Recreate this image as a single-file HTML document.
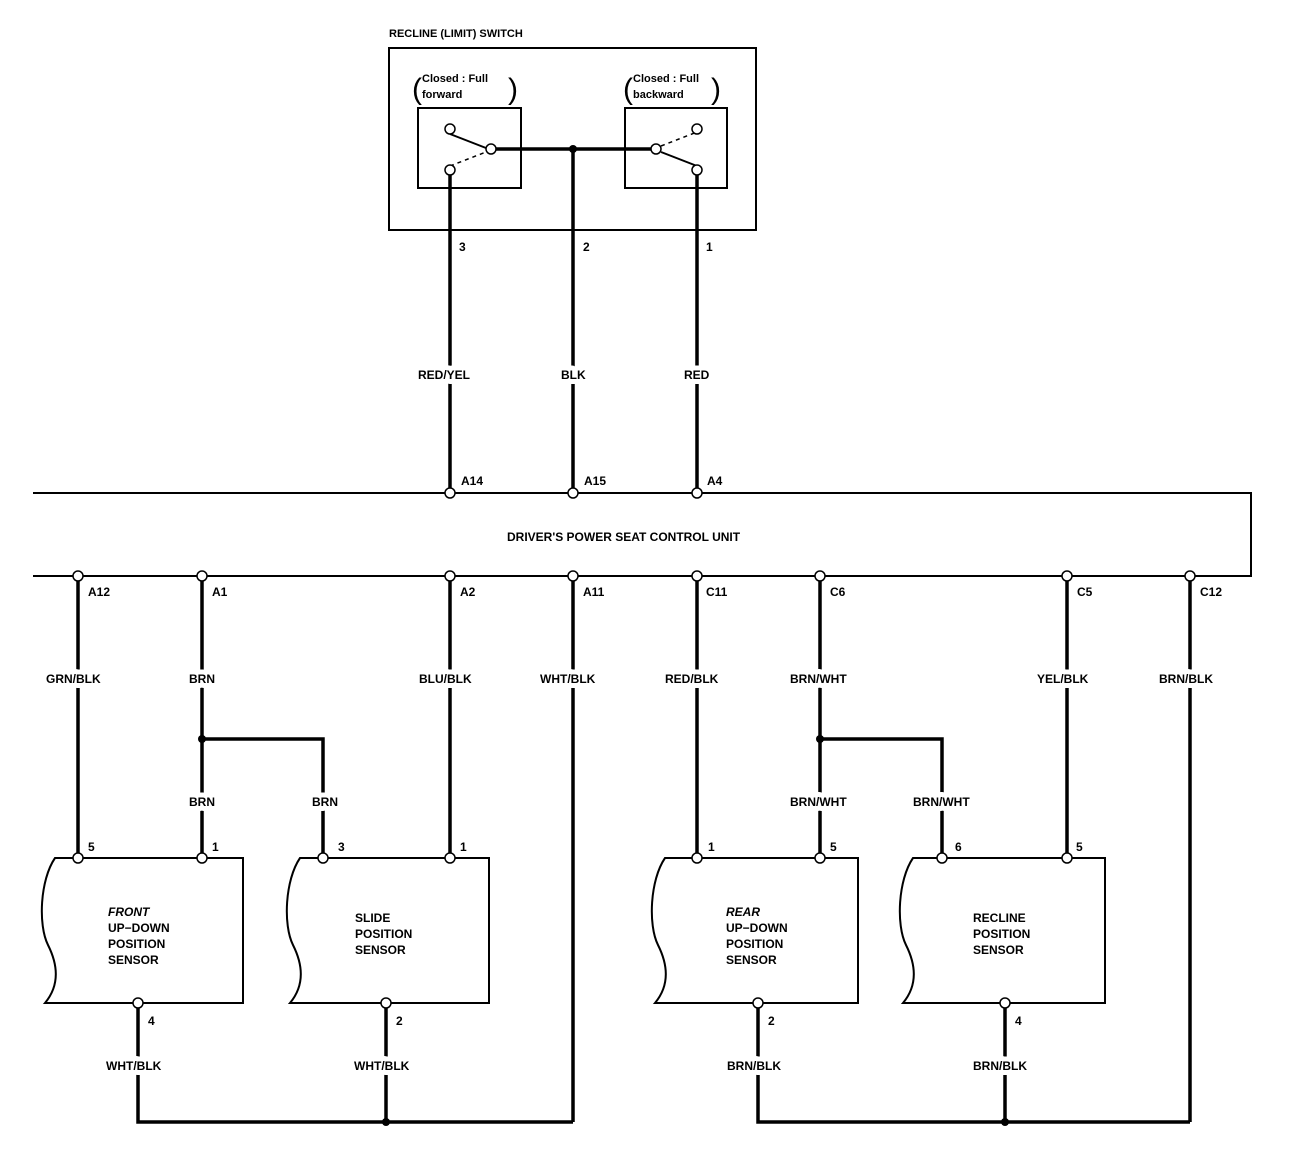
<!DOCTYPE html>
<html><head><style>
html,body{margin:0;padding:0;background:#fff;}
svg text{font-family:"Liberation Sans",sans-serif;font-weight:bold;font-size:12px;fill:#000;}
.w{stroke:#fff;stroke-width:10px;paint-order:stroke;stroke-linejoin:round;}
svg text.s{font-size:11px;}
svg text.p{font-size:30px;font-weight:normal;}
</style></head><body>
<svg width="1312" height="1168" viewBox="0 0 1312 1168" xmlns="http://www.w3.org/2000/svg">
<g fill="none" stroke="#000" stroke-width="2">
<rect x="389" y="48" width="367" height="182"/>
<rect x="418" y="108" width="103" height="80"/>
<rect x="625" y="108" width="102" height="80"/>
<line x1="450" y1="134" x2="486" y2="148"/>
<line x1="450" y1="166" x2="486" y2="152" stroke-dasharray="4,4" stroke-width="1.5"/>
<line x1="661" y1="152" x2="697" y2="166"/>
<line x1="661" y1="146" x2="697" y2="132" stroke-dasharray="4,4" stroke-width="1.5"/>
<polyline points="33,493 1251,493 1251,576 33,576"/>
<path d="M55,858 L243,858 L243,1003 L45,1003 C60,985 58,965 48,945 C38,925 40,880 55,858 Z"/>
<path d="M300,858 L489,858 L489,1003 L290,1003 C305,985 303,965 293,945 C283,925 285,880 300,858 Z"/>
<path d="M665,858 L858,858 L858,1003 L655,1003 C670,985 668,965 658,945 C648,925 650,880 665,858 Z"/>
<path d="M913,858 L1105,858 L1105,1003 L903,1003 C918,985 916,965 906,945 C896,925 898,880 913,858 Z"/>
</g>
<g fill="none" stroke="#000" stroke-width="3.5">
<line x1="491" y1="149" x2="656" y2="149"/>
<line x1="450" y1="170" x2="450" y2="493"/>
<line x1="573" y1="149" x2="573" y2="493"/>
<line x1="697" y1="170" x2="697" y2="493"/>
<line x1="78" y1="576" x2="78" y2="858"/>
<polyline points="202,576 202,858"/>
<polyline points="202,739 323,739 323,858"/>
<line x1="450" y1="576" x2="450" y2="858"/>
<line x1="573" y1="576" x2="573" y2="1122"/>
<line x1="697" y1="576" x2="697" y2="858"/>
<polyline points="820,576 820,858"/>
<polyline points="820,739 942,739 942,858"/>
<line x1="1067" y1="576" x2="1067" y2="858"/>
<line x1="1190" y1="576" x2="1190" y2="1122"/>
<polyline points="138,1003 138,1122 573,1122"/>
<line x1="386" y1="1003" x2="386" y2="1122"/>
<polyline points="758,1003 758,1122 1190,1122"/>
<line x1="1005" y1="1003" x2="1005" y2="1122"/>
</g>
<g fill="#000">
<circle cx="573" cy="149" r="4"/><circle cx="202" cy="739" r="4"/><circle cx="820" cy="739" r="4"/>
<circle cx="386" cy="1122" r="4"/><circle cx="1005" cy="1122" r="4"/>
</g>
<g fill="#fff" stroke="#000" stroke-width="1.5">
<circle cx="450" cy="129" r="5"/><circle cx="450" cy="170" r="5"/><circle cx="491" cy="149" r="5"/>
<circle cx="656" cy="149" r="5"/><circle cx="697" cy="129" r="5"/><circle cx="697" cy="170" r="5"/>
<circle cx="450" cy="493" r="5"/><circle cx="573" cy="493" r="5"/><circle cx="697" cy="493" r="5"/>
<circle cx="78" cy="576" r="5"/><circle cx="202" cy="576" r="5"/><circle cx="450" cy="576" r="5"/><circle cx="573" cy="576" r="5"/>
<circle cx="697" cy="576" r="5"/><circle cx="820" cy="576" r="5"/><circle cx="1067" cy="576" r="5"/><circle cx="1190" cy="576" r="5"/>
<circle cx="78" cy="858" r="5"/><circle cx="202" cy="858" r="5"/><circle cx="323" cy="858" r="5"/><circle cx="450" cy="858" r="5"/>
<circle cx="697" cy="858" r="5"/><circle cx="820" cy="858" r="5"/><circle cx="942" cy="858" r="5"/><circle cx="1067" cy="858" r="5"/>
<circle cx="138" cy="1003" r="5"/><circle cx="386" cy="1003" r="5"/><circle cx="758" cy="1003" r="5"/><circle cx="1005" cy="1003" r="5"/>
</g>
<g>
<text class="s" x="389" y="37">RECLINE (LIMIT) SWITCH</text>
<text class="s" x="422" y="82">Closed : Full</text><text class="s" x="422" y="98">forward</text>
<text class="p" x="412" y="99">(</text><text class="p" x="508" y="99">)</text>
<text class="s" x="633" y="82">Closed : Full</text><text class="s" x="633" y="98">backward</text>
<text class="p" x="623" y="99">(</text><text class="p" x="711" y="99">)</text>
<text x="459" y="251">3</text><text x="583" y="251">2</text><text x="706" y="251">1</text>
<text class="w" x="418" y="379">RED/YEL</text><text class="w" x="561" y="379">BLK</text><text class="w" x="684" y="379">RED</text>
<text x="461" y="485">A14</text><text x="584" y="485">A15</text><text x="707" y="485">A4</text>
<text x="507" y="541">DRIVER'S POWER SEAT CONTROL UNIT</text>
<text x="88" y="596">A12</text><text x="212" y="596">A1</text><text x="460" y="596">A2</text><text x="583" y="596">A11</text>
<text x="706" y="596">C11</text><text x="830" y="596">C6</text><text x="1077" y="596">C5</text><text x="1200" y="596">C12</text>
<g class="w">
<text x="46" y="683">GRN/BLK</text><text x="189" y="683">BRN</text><text x="419" y="683">BLU/BLK</text><text x="540" y="683">WHT/BLK</text>
<text x="665" y="683">RED/BLK</text><text x="790" y="683">BRN/WHT</text><text x="1037" y="683">YEL/BLK</text><text x="1159" y="683">BRN/BLK</text>
<text x="189" y="806">BRN</text><text x="312" y="806">BRN</text><text x="790" y="806">BRN/WHT</text><text x="913" y="806">BRN/WHT</text>
<text x="106" y="1070">WHT/BLK</text><text x="354" y="1070">WHT/BLK</text><text x="727" y="1070">BRN/BLK</text><text x="973" y="1070">BRN/BLK</text>
</g>
<text x="88" y="851">5</text><text x="212" y="851">1</text><text x="338" y="851">3</text><text x="460" y="851">1</text>
<text x="708" y="851">1</text><text x="830" y="851">5</text><text x="955" y="851">6</text><text x="1076" y="851">5</text>
<text x="108" y="916" font-style="italic">FRONT</text><text x="108" y="932">UP−DOWN</text><text x="108" y="948">POSITION</text><text x="108" y="964">SENSOR</text>
<text x="355" y="922">SLIDE</text><text x="355" y="938">POSITION</text><text x="355" y="954">SENSOR</text>
<text x="726" y="916" font-style="italic">REAR</text><text x="726" y="932">UP−DOWN</text><text x="726" y="948">POSITION</text><text x="726" y="964">SENSOR</text>
<text x="973" y="922">RECLINE</text><text x="973" y="938">POSITION</text><text x="973" y="954">SENSOR</text>
<text x="148" y="1025">4</text><text x="396" y="1025">2</text><text x="768" y="1025">2</text><text x="1015" y="1025">4</text>
</g>
</svg>
</body></html>
